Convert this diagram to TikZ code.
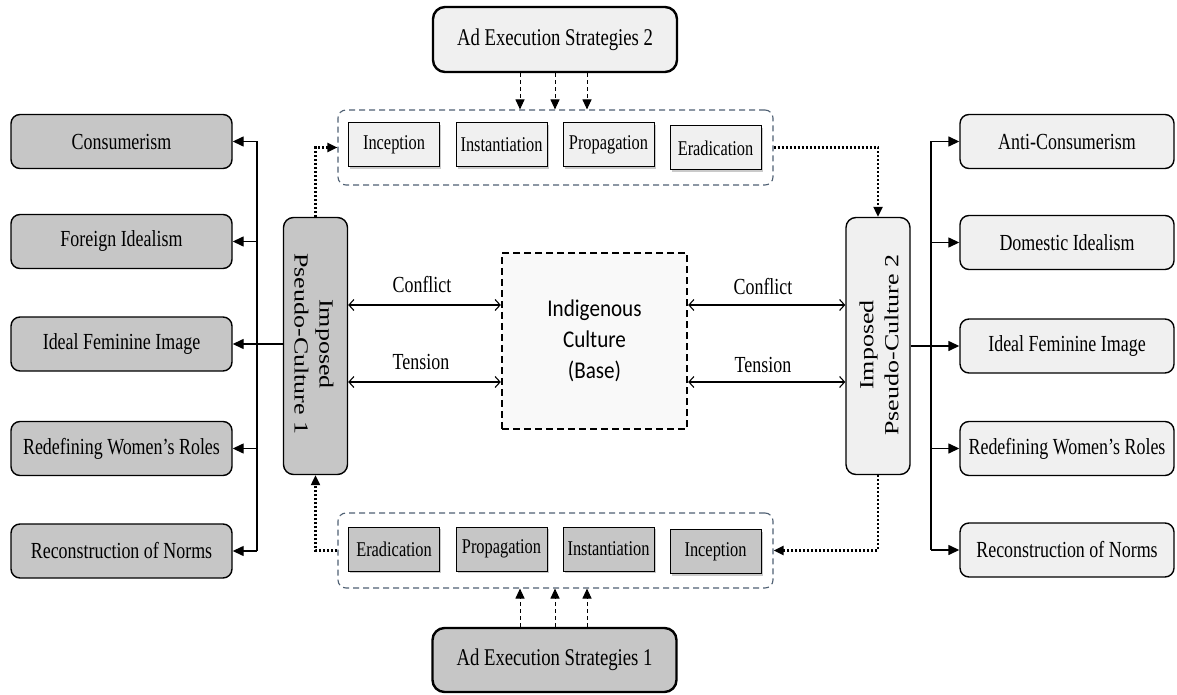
\documentclass[tikz,border=0pt]{standalone}
\usepackage{fontspec}
\setmainfont{Liberation Serif}[FakeStretch=0.78]
\newfontfamily\rotfont{Liberation Serif}[FakeStretch=1.3]
\newfontfamily\calfont{Carlito}[FakeStretch=0.88]
\usetikzlibrary{arrows.meta,shadows}
\definecolor{dk}{HTML}{C6C6C6}
\definecolor{lt}{HTML}{F0F0F0}
\definecolor{cont}{HTML}{4F6073}
\tikzset{
  outbox/.style={draw, line width=1.4pt, rounded corners=9pt, minimum width=221pt,
    minimum height=54pt, inner sep=0pt, font=\fontsize{23}{26}\selectfont},
  rbox/.style={outbox, minimum width=214pt, fill=lt},
  lbox/.style={outbox, fill=dk},
  adbox/.style={draw, line width=2.4pt, rounded corners=12pt, minimum width=244pt,
    minimum height=65pt, inner sep=0pt, font=\fontsize{24}{27}\selectfont},
  pbox/.style={draw, line width=1.4pt, rounded corners=10pt, minimum width=64pt,
    minimum height=257pt, inner sep=0pt},
  ptext/.style={font=\rotfont\fontsize{20}{25}\selectfont, align=center, inner sep=0pt},
  inbox/.style={draw, line width=1pt, minimum width=91pt, minimum height=44pt, inner sep=0pt,
    font=\fontsize{21}{24}\selectfont, drop shadow={shadow xshift=1.5pt, shadow yshift=-2pt, fill=gray!70, opacity=0.6}},
  container/.style={draw=cont, line width=1.1pt, dash pattern=on 6pt off 4pt, rounded corners=8pt,
    minimum width=435pt, minimum height=75pt, inner sep=0pt},
  arr/.style={line width=1.4pt, -{Triangle[length=11pt,width=10pt]}},
  dasharr/.style={line width=1pt, dash pattern=on 4pt off 3pt, -{Triangle[length=10pt,width=9pt]}},
  dotarr/.style={line width=2.2pt, dash pattern=on 2.2pt off 1.8pt, -{Triangle[length=10pt,width=9pt]}},
  twoway/.style={line width=1.1pt, {Straight Barb[length=5pt,width=11pt]}-{Straight Barb[length=5pt,width=11pt]}},
  lab/.style={font=\fontsize{23}{26}\selectfont, inner sep=0pt}
}
\begin{document}
\begin{tikzpicture}[x=1pt,y=-1pt]
\useasboundingbox (0,0) rectangle (1177,695);

% left outcome boxes
\node[lbox] (f1) at (121.5,141.5) {Consumerism};
\node[lbox] (f2) at (121.5,241.5) {Foreign Idealism};
\node[lbox] (f3) at (121.5,344) {Ideal Feminine Image};
\node[lbox] (f4) at (121.5,448.5) {Redefining Women's Roles};
\node[lbox] (f5) at (121.5,551) {Reconstruction of Norms};

% right outcome boxes
\node[rbox] (g1) at (1067,141.5) {Anti-Consumerism};
\node[rbox] (g2) at (1067,242.5) {Domestic Idealism};
\node[rbox] (g3) at (1067,346) {Ideal Feminine Image};
\node[rbox] (g4) at (1067,448.5) {Redefining Women's Roles};
\node[rbox] (g5) at (1067,550) {Reconstruction of Norms};

% pseudo-culture boxes
\node[pbox, fill=dk] (p1) at (315.5,346) {};
\node[ptext, rotate=-90] (p1t) at (314,344) {Imposed\\Pseudo-Culture 1};
\node[pbox, fill=lt] (p2) at (878,346) {};
\node[ptext, rotate=90] (p2t) at (879,345) {Imposed\\Pseudo-Culture 2};

% ad execution boxes
\node[adbox, fill=lt] (ad2) at (555,39.5) {Ad Execution Strategies 2};
\node[adbox, fill=dk, minimum height=64pt] (ad1) at (554.5,660) {Ad Execution Strategies 1};

% containers
\node[container] (topc) at (555.5,147.5) {};
\node[container] (botc) at (555.5,550.5) {};

% top inner boxes
\node[inbox, fill=lt] (t1) at (394,145) {Inception};
\node[inbox, fill=lt] (t2) at (501.5,145) {Instantiation};
\node[inbox, fill=lt] (t3) at (608.5,145) {Propagation};
\node[inbox, fill=lt] (t4) at (715.5,148) {Eradication};

% bottom inner boxes
\node[inbox, fill=dk] (b1) at (394,549) {Eradication};
\node[inbox, fill=dk] (b2) at (501.5,549) {Propagation};
\node[inbox, fill=dk] (b3) at (608.5,549) {Instantiation};
\node[inbox, fill=dk] (b4) at (715.5,551.5) {Inception};

% central box
\node[draw, line width=2.4pt, dash pattern=on 7pt off 4pt, fill=gray!5,
  minimum width=185pt, minimum height=176pt, align=center, inner sep=0pt,
  font=\calfont\fontsize{24}{31}\selectfont] (ind) at (594.5,341) {Indigenous\\Culture\\(Base)};

% helper coordinates
\coordinate (lbus) at (257,0);
\coordinate (rbus) at (931,0);
\coordinate (cf) at (0,305);
\coordinate (tn) at (0,382);
\coordinate (da) at (520,0);
\coordinate (db) at (555,0);
\coordinate (dc) at (587,0);

% left bus
\draw[line width=1.4pt] (lbus |- f1.east) -- (lbus |- f5.east);
\draw[arr] (lbus |- f1.east) -- (f1.east);
\draw[arr] (lbus |- f2.east) -- (f2.east);
\draw[arr] (p1.west |- f3.east) -- (f3.east);
\draw[arr] (lbus |- f4.east) -- (f4.east);
\draw[arr] (lbus |- f5.east) -- (f5.east);

% right bus
\draw[line width=1.4pt] (rbus |- g1.west) -- (rbus |- g5.west);
\draw[arr] (rbus |- g1.west) -- (g1.west);
\draw[arr] (rbus |- g2.west) -- (g2.west);
\draw[arr] (p2.east |- g3.west) -- (g3.west);
\draw[arr] (rbus |- g4.west) -- (g4.west);
\draw[arr] (rbus |- g5.west) -- (g5.west);

% conflict / tension
\draw[twoway] (p1.east |- cf) -- (ind.west |- cf);
\draw[twoway] (p1.east |- tn) -- (ind.west |- tn);
\draw[twoway] (ind.east |- cf) -- (p2.west |- cf);
\draw[twoway] (ind.east |- tn) -- (p2.west |- tn);
\node[lab] (lc1) at (422,285) {Conflict};
\node[lab] (lt1) at (421,362) {Tension};
\node[lab] (lc2) at (763,287) {Conflict};
\node[lab] (lt2) at (763,365) {Tension};

% dotted loop connectors
\draw[dotarr] (p1.north) |- (topc.west);
\draw[dotarr] (topc.east) -| (p2.north);
\draw[dotarr] (p2.south) |- (botc.east);
\draw[dotarr] (botc.west) -| (p1.south);

% dashed strategy arrows
\draw[dasharr] (da |- ad2.south) -- (da |- topc.north);
\draw[dasharr] (db |- ad2.south) -- (db |- topc.north);
\draw[dasharr] (dc |- ad2.south) -- (dc |- topc.north);
\draw[dasharr] (da |- ad1.north) -- (da |- botc.south);
\draw[dasharr] (db |- ad1.north) -- (db |- botc.south);
\draw[dasharr] (dc |- ad1.north) -- (dc |- botc.south);
\end{tikzpicture}
\end{document}
